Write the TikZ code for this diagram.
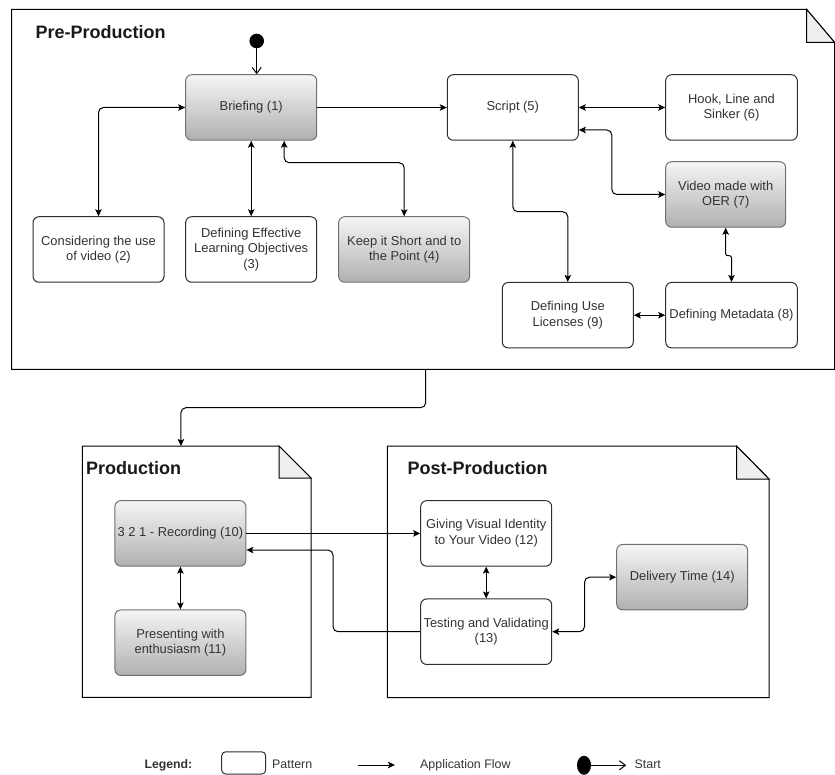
\documentclass[tikz,border=0pt]{standalone}
\usepackage{fontspec}
\setmainfont{Liberation Sans}
\usetikzlibrary{arrows.meta,shapes.geometric}
\definecolor{txt}{HTML}{333333}
\definecolor{gtop}{HTML}{F5F5F5}
\definecolor{gbot}{HTML}{B0B0B0}
\definecolor{gstroke}{HTML}{707070}
\definecolor{wstroke}{HTML}{2E2E2E}
\definecolor{foldfill}{HTML}{EFEFEF}
\begin{document}
\begin{tikzpicture}[x=1pt,y=-1pt,
  pat/.style={draw=wstroke, line width=1pt, rounded corners=6pt, fill=white,
    minimum width=131pt, minimum height=65.5pt, align=center, text=txt,
    font=\fontsize{12.9}{15.5}\selectfont, inner sep=1pt},
  patg/.style={pat, draw=gstroke, top color=gtop, bottom color=gbot},
  framebox/.style={inner sep=0pt, outer sep=0pt},
  frameline/.style={draw=black, line width=1pt, fill=white},
  foldline/.style={draw=black, line width=1pt, fill=foldfill},
  ttl/.style={font=\fontsize{18}{20}\selectfont\bfseries, text=black!90, inner sep=0pt, anchor=base west},
  lgd/.style={font=\fontsize{12.4}{14}\selectfont, text=txt, inner sep=0pt, anchor=base west},
  arr/.style={-{Stealth[length=7pt,width=6.5pt,inset=1.5pt]}, line width=1pt, rounded corners=5pt},
  barr/.style={{Stealth[length=7pt,width=6.5pt,inset=1.5pt]}-{Stealth[length=7pt,width=6.5pt,inset=1.5pt]}, line width=1pt, rounded corners=5pt},
  openarr/.style={-{Straight Barb[length=6pt,width=9pt]}, line width=1pt}
]
\useasboundingbox (0,0) rectangle (835,775);

% ---------- frames ----------
\node[framebox, minimum width=823pt, minimum height=360pt] (pre) at (423,189.3) {};
\draw[frameline] (pre.north west) -- ([xshift=-28pt]pre.north east) -- ([yshift=-33pt]pre.north east) -- (pre.south east) -- (pre.south west) -- cycle;
\draw[foldline] ([xshift=-28pt]pre.north east) -- ([xshift=-28pt,yshift=-33pt]pre.north east) -- ([yshift=-33pt]pre.north east) -- cycle;

\node[framebox, minimum width=228.7pt, minimum height=251.3pt] (prod) at (196.65,571.65) {};
\draw[frameline] (prod.north west) -- ([xshift=-32pt]prod.north east) -- ([yshift=-32pt]prod.north east) -- (prod.south east) -- (prod.south west) -- cycle;
\draw[foldline] ([xshift=-32pt]prod.north east) -- ([xshift=-32pt,yshift=-32pt]prod.north east) -- ([yshift=-32pt]prod.north east) -- cycle;

\node[framebox, minimum width=381.7pt, minimum height=251.7pt] (post) at (578.15,571.85) {};
\draw[frameline] (post.north west) -- ([xshift=-32.5pt]post.north east) -- ([yshift=-33pt]post.north east) -- (post.south east) -- (post.south west) -- cycle;
\draw[foldline] ([xshift=-32.5pt]post.north east) -- ([xshift=-32.5pt,yshift=-33pt]post.north east) -- ([yshift=-33pt]post.north east) -- cycle;

\node[ttl] (tpre) at (35.5,38.3) {Pre-Production};
\node[ttl] (tprod) at (86,474.6) {Production};
\node[ttl] (tpost) at (407.3,474.4) {Post-Production};

% ---------- nodes ----------
\node[patg] (b) at (251.2,107.5) {Briefing (1)};
\node[pat] (s) at (512.8,107.5) {Script (5)};
\node[pat, minimum width=131.6pt] (c6) at (731.5,107.5) {Hook, Line and\\Sinker (6)};
\node[patg, minimum width=120pt] (c7) at (725.7,194.5) {Video made with\\OER (7)};
\node[pat, minimum width=131.6pt] (c8) at (731.5,315.2) {Defining Metadata (8)};
\node[pat] (c9) at (567.8,315.2) {Defining Use\\Licenses (9)};
\node[pat] (c2) at (98.5,249.5) {Considering the use\\of video (2)};
\node[pat] (c3) at (251.2,249.5) {Defining Effective\\Learning Objectives\\(3)};
\node[patg] (c4) at (404.2,249.5) {Keep it Short and to\\the Point (4)};
\node[patg] (c10) at (180.4,533.4) {3 2 1 - Recording (10)};
\node[patg] (c11) at (180.4,642.7) {Presenting with\\enthusiasm (11)};
\node[pat] (c12) at (486.2,533.4) {Giving Visual Identity\\to Your Video (12)};
\node[pat] (c13) at (486.2,631.7) {Testing and Validating\\(13)};
\node[patg] (c14) at (682.2,577.2) {Delivery Time (14)};

\node[circle, fill=black, minimum size=14.6pt, inner sep=0pt] (start) at (256.7,41) {};

% ---------- connectors ----------
\draw[openarr] (start.south) -- (start.south |- b.north);
\draw[arr] (b.east) -- (s.west);
\draw[barr] (b.west) -| (c2.north);
\draw[barr] (b.south) -- (c3.north);
\draw[barr] ([xshift=33pt]b.south) -- ++(0,22) -| (c4.north);
\draw[barr] (s.east) -- (c6.west);
\draw[barr] ([yshift=-22.5pt]s.east) -- ++(33,0) |- (c7.west);
\draw[barr] (s.south) -- ++(0,71) -| (c9.north);
\draw[barr, rounded corners=2pt] (c7.south) -- ++(0,28) -| (c8.north);
\draw[barr] (c9.east) -- (c8.west);

\draw[arr] ([xshift=2.7pt]pre.south) -- ++(0,38.4) -| ([xshift=-15.7pt]prod.north);

\draw[arr] (c10.east) -- (c12.west);
\draw[arr] (c13.west) -- ++(-87.2,0) |- ([yshift=-16.6pt]c10.east);
\draw[barr] (c10.south) -- (c11.north);
\draw[barr] (c12.south) -- (c13.north);
\draw[barr] (c13.east) -- ++(32.3,0) |- (c14.west);

% ---------- legend ----------
\node[lgd, font=\fontsize{12.3}{14}\selectfont\bfseries] (lg) at (144.3,768.3) {Legend:};
\node[draw=wstroke, line width=1pt, rounded corners=4pt, minimum width=44pt, minimum height=22.3pt, inner sep=0pt] (lbox) at (243.7,762.9) {};
\node[lgd] (lpat) at (272,768.3) {Pattern};
\coordinate (la1) at (358,765);
\coordinate (la2) at (395,765);
\draw[arr] (la1) -- (la2);
\node[lgd] (lapp) at (420,768.3) {Application Flow};
\node[ellipse, fill=black, minimum width=14pt, minimum height=19pt, inner sep=0pt] (ldot) at (584,765.3) {};
\draw[openarr] (ldot.east) -- ++(35,0) coordinate (lend);
\node[lgd] (lstart) at (634.5,768.3) {Start};
\end{tikzpicture}
\end{document}
